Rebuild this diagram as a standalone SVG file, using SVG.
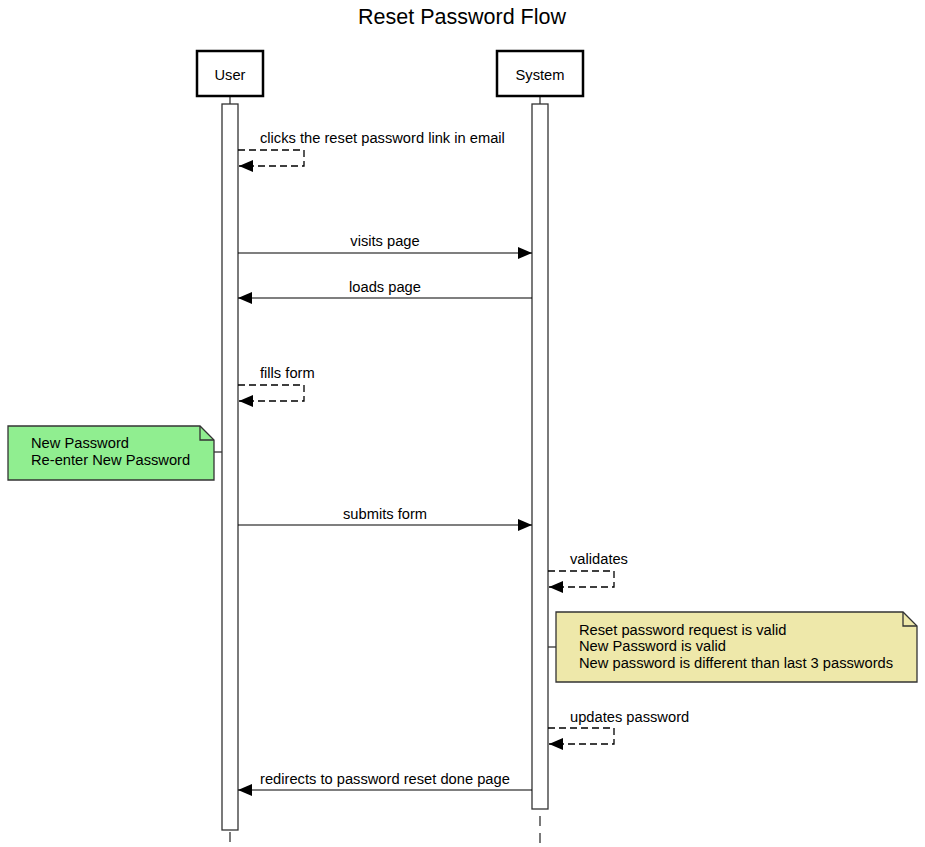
<svg xmlns="http://www.w3.org/2000/svg" width="925" height="847" viewBox="0 0 925 847">
<style>
text{font-family:"Liberation Sans",Arial,sans-serif;font-size:14.7px;fill:#000}
.title{font-size:21.5px}
.actor{fill:#fff;stroke:#000;stroke-width:2.5}
.act{fill:#fff;stroke:#333;stroke-width:1.3}
.life{stroke:#333;stroke-width:1.3;fill:none}
.dash{stroke-dasharray:10,7}
.msg{stroke:#000;stroke-width:1.2;fill:none}
.self{stroke:#000;stroke-width:1.3;fill:none;stroke-dasharray:7,4}
.note{stroke:#333;stroke-width:1.3}
</style>
<defs>
<marker id="ah" markerWidth="14" markerHeight="12" refX="14" refY="6" orient="auto" markerUnits="userSpaceOnUse">
<path d="M0,0 L14,6 L0,12 Z" fill="#000"/>
</marker>
</defs>
<rect width="925" height="847" fill="#fff"/>
<text class="title" x="462" y="24" text-anchor="middle">Reset Password Flow</text>

<g id="user">
<line class="life" x1="230" y1="96" x2="230" y2="104"/>
<line class="life dash" x1="230" y1="832" x2="230" y2="847"/>
<rect class="actor" x="197" y="51" width="66" height="45"/>
<text x="230" y="80" text-anchor="middle">User</text>
<rect class="act" x="222" y="104" width="16" height="726"/>
</g>
<g id="system">
<line class="life" x1="540" y1="96" x2="540" y2="104"/>
<line class="life dash" x1="540" y1="816" x2="540" y2="847"/>
<rect class="actor" x="497" y="51" width="86" height="45"/>
<text x="540" y="80" text-anchor="middle">System</text>
<rect class="act" x="532" y="104" width="16" height="705"/>
</g>

<g id="note-user">
<line class="note" x1="214" y1="452" x2="222" y2="452"/>
<path class="note" d="M8,426 H200 L214,440 V480 H8 Z" fill="#90ee90"/>
<path class="note" d="M200,426 V440 H214" fill="none"/>
<text x="31" y="448">New Password</text>
<text x="31" y="465">Re-enter New Password</text>
</g>
<g id="note-system">
<line class="note" x1="548" y1="647" x2="556" y2="647"/>
<path class="note" d="M556,612 H903 L917,626 V682 H556 Z" fill="#eee8aa"/>
<path class="note" d="M903,612 V626 H917" fill="none"/>
<text x="579" y="635">Reset password request is valid</text>
<text x="579" y="651">New Password is valid</text>
<text x="579" y="668">New password is different than last 3 passwords</text>
</g>

<g id="connectors">
<path class="self" d="M238,150 H304 V166 H239" marker-end="url(#ah)"/>
<text x="260" y="143">clicks the reset password link in email</text>
<line class="msg" x1="238" y1="253" x2="532" y2="253" marker-end="url(#ah)"/>
<text x="385" y="246" text-anchor="middle">visits page</text>
<line class="msg" x1="532" y1="298" x2="238" y2="298" marker-end="url(#ah)"/>
<text x="385" y="292" text-anchor="middle">loads page</text>
<path class="self" d="M238,385 H304 V401 H239" marker-end="url(#ah)"/>
<text x="260" y="378">fills form</text>
<line class="msg" x1="238" y1="525" x2="532" y2="525" marker-end="url(#ah)"/>
<text x="385" y="519" text-anchor="middle">submits form</text>
<path class="self" d="M548,571 H614 V587 H549" marker-end="url(#ah)"/>
<text x="570" y="564">validates</text>
<path class="self" d="M548,728 H614 V744 H549" marker-end="url(#ah)"/>
<text x="570" y="722">updates password</text>
<line class="msg" x1="532" y1="790" x2="238" y2="790" marker-end="url(#ah)"/>
<text x="260" y="784">redirects to password reset done page</text>
</g>
</svg>
